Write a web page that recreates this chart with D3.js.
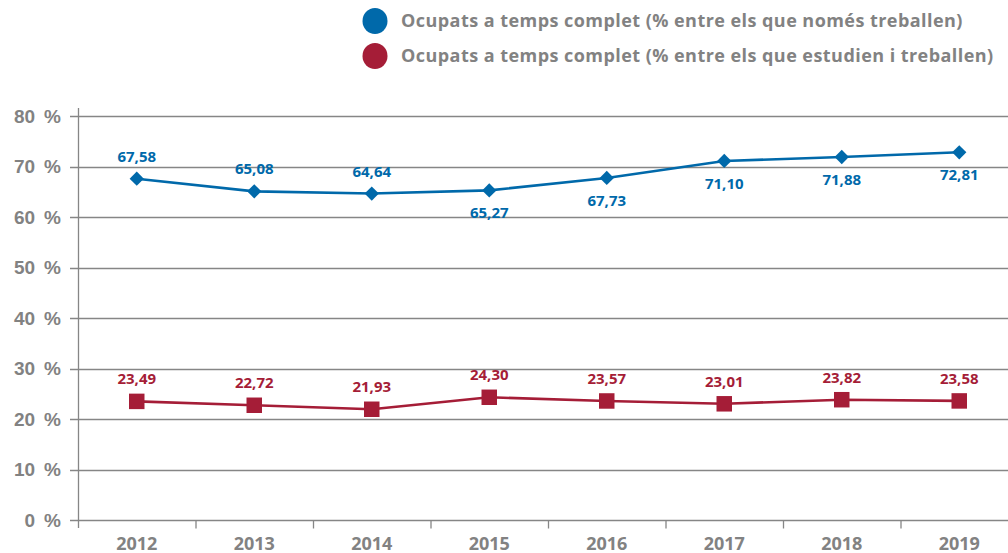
<!DOCTYPE html>
<html>
<head>
<meta charset="utf-8">
<script src="https://cdn.jsdelivr.net/npm/d3@7/dist/d3.min.js"></script>
<style>
  html, body { margin: 0; padding: 0; background: #fff; }
  svg { display: block; font-family: "Open Sans", "Noto Sans", sans-serif; }
</style>
</head>
<body>
<svg id="chart" width="1008" height="553"></svg>
<script>
// Years on the horizontal axis
const years = ["2012", "2013", "2014", "2015", "2016", "2017", "2018", "2019"];
// Full-time employed, % among those who only work
const onlyWork = [67.58, 65.08, 64.64, 65.27, 67.73, 71.10, 71.88, 72.81];
// Full-time employed, % among those who study and work
const studyWork = [23.49, 22.72, 21.93, 24.30, 23.57, 23.01, 23.82, 23.58];
// Placement of the blue value labels (above/below the point)
const onlyWorkLabelPos = ["above", "above", "above", "below", "below", "below", "below", "below"];
const yTicks = [0, 10, 20, 30, 40, 50, 60, 70, 80];
const seriesNames = [
  "Ocupats a temps complet (% entre els que només treballen)",
  "Ocupats a temps complet (% entre els que estudien i treballen)"
];

const BLUE = "#0069aa";
const RED = "#a51d37";
const GRID = "#868686";
const TEXT = "#828282";

const svg = d3.select("#chart");
const margin = { left: 78, right: -10, top: 116, bottom: 33 };
const W = 1008, H = 553;

const x = d3.scaleBand().domain(years).range([margin.left, W - margin.right]).padding(0);
const y = d3.scaleLinear().domain([0, 80]).range([H - margin.bottom, margin.top]);
const fmt = v => d3.format(".2f")(v).replace(".", ",");

// Horizontal gridlines
svg.append("g")
  .selectAll("line")
  .data(yTicks)
  .join("line")
  .attr("x1", margin.left - 8)
  .attr("x2", W)
  .attr("y1", d => Math.round(y(d)) + 0.5)
  .attr("y2", d => Math.round(y(d)) + 0.5)
  .attr("stroke", GRID)
  .attr("stroke-width", 1.3);

// Y axis
const yAxis = svg.append("g")
  .attr("transform", `translate(${margin.left},0)`)
  .call(d3.axisLeft(y).tickValues(yTicks).tickSize(0).tickPadding(17).tickFormat(d => d + "\u2009 %"));
yAxis.select(".domain").remove();
yAxis.selectAll("text")
  .attr("fill", TEXT)
  .style("font-size", "19px")
  .style("font-weight", "700");

// Vertical axis line
svg.append("line")
  .attr("x1", margin.left + 0.5).attr("x2", margin.left + 0.5)
  .attr("y1", y(80) - 8).attr("y2", y(0) + 8)
  .attr("stroke", GRID).attr("stroke-width", 1.3);

// X axis with separator ticks between categories
const xg = svg.append("g").attr("transform", `translate(0,${Math.round(y(0)) + 0.5})`);
xg.selectAll("line.sep")
  .data(years.slice(1))
  .join("line")
  .attr("class", "sep")
  .attr("x1", d => x(d) + 0.5).attr("x2", d => x(d) + 0.5)
  .attr("y1", 0).attr("y2", 8)
  .attr("stroke", GRID).attr("stroke-width", 1.3);
xg.selectAll("text")
  .data(years)
  .join("text")
  .attr("x", d => x(d) + x.bandwidth() / 2)
  .attr("y", 29)
  .attr("text-anchor", "middle")
  .attr("fill", TEXT)
  .style("font-size", "18px")
  .style("font-weight", "700")
  .text(d => d);

const cx = d => x(d) + x.bandwidth() / 2;
const line = d3.line().x(d => cx(d.year)).y(d => y(d.value));

function series(values, color, shape, labelPos) {
  const data = years.map((yr, i) => ({ year: yr, value: values[i], pos: labelPos ? labelPos[i] : "above" }));
  const g = svg.append("g");
  g.append("path")
    .datum(data)
    .attr("d", line)
    .attr("fill", "none")
    .attr("stroke", color)
    .attr("stroke-width", 2.6);
  g.selectAll("path.mk")
    .data(data)
    .join("path")
    .attr("class", "mk")
    .attr("transform", d => `translate(${cx(d.year)},${y(d.value)})`)
    .attr("d", d3.symbol().type(shape).size(shape === d3.symbolSquare ? 240 : 130))
    .attr("fill", color);
  g.selectAll("text")
    .data(data)
    .join("text")
    .attr("x", d => cx(d.year))
    .attr("y", d => d.pos === "above" ? y(d.value) - 17 : y(d.value) + 28)
    .attr("text-anchor", "middle")
    .attr("fill", color)
    .style("font-size", "15px")
    .style("font-weight", "700")
    .text(d => fmt(d.value));
}

series(onlyWork, BLUE, d3.symbolDiamond2 || d3.symbolDiamond, onlyWorkLabelPos);
series(studyWork, RED, d3.symbolSquare, null);

// Legend
const legend = svg.append("g");
[BLUE, RED].forEach((c, i) => {
  const ly = 21 + i * 35;
  legend.append("ellipse").attr("cx", 375).attr("cy", ly).attr("rx", 12.5).attr("ry", 13).attr("fill", c);
  legend.append("text")
    .attr("x", 401).attr("y", ly + 6)
    .attr("fill", TEXT)
    .style("font-size", "18px")
    .style("font-weight", "700")
    .style("letter-spacing", "0.45px")
    .text(seriesNames[i]);
});
</script>
</body>
</html>
